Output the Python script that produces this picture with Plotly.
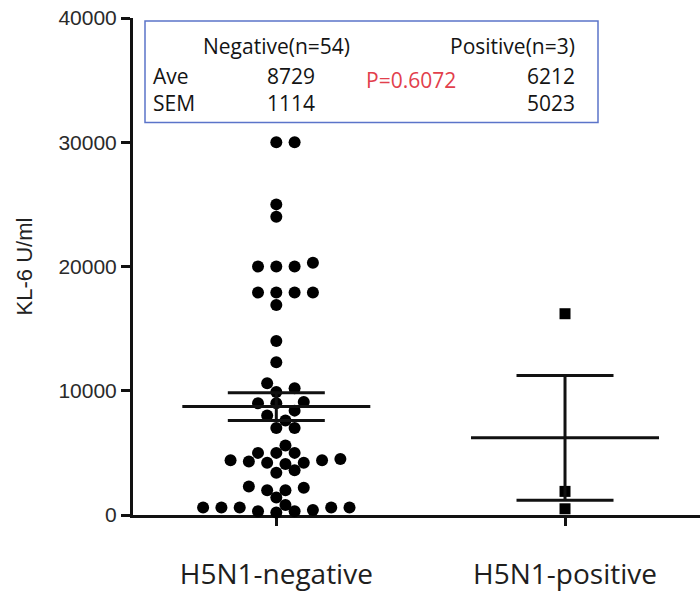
import math
import plotly.graph_objects as go

# ---------------- data ----------------
categories = ["H5N1-negative", "H5N1-positive"]

negative = [30000, 30000, 25000, 24000, 20300, 20000, 20000, 20000,
            17900, 17900, 17900, 17900, 16900, 14000, 12300,
            10600, 10200, 9900, 9100, 9000, 9000, 8400, 8000, 7600, 7000, 7000,
            5600, 5000, 5000, 5000, 4500, 4400, 4400, 4300, 4200, 4200, 4100,
            3600, 3400, 2300, 2200, 2000, 2000, 1400, 800,
            600, 600, 600, 600, 600, 400, 300, 300, 200]
positive = [16200, 1900, 500]

group_means = [8729, 6212]
group_sems = [1114, 5023]

y_ticks = [0, 10000, 20000, 30000, 40000]

# ---------------- layout geometry (pixels) ----------------
W, H = 700, 592
L, R, T, B = 133, 0, 18, 75
plot_w = W - L - R
plot_h = H - T - B
x_range = [-0.4964, 1.4676]
y_range = [0, 40000]
ux = (x_range[1] - x_range[0]) / plot_w   # data units per px
uy = (y_range[1] - y_range[0]) / plot_h   # data units per px

COL_PX = 18.3     # column spacing of the dot swarm (px)
MIN_D = 11.0      # minimal distance between dot centres (px)


def swarm(values, center):
    """Greedy beeswarm in pixel space; returns data-space x offsets."""
    placed = []
    xs, ys = [], []
    cands = [0.0]
    for k in range(1, 30):
        cands += [k * 0.5, -k * 0.5]
    for v in sorted(values):
        vy = v / uy
        for c in cands:
            cx = c * COL_PX
            if all(math.hypot(cx - qx, vy - qy) >= MIN_D for qx, qy in placed):
                break
        placed.append((cx, vy))
        xs.append(center + cx * ux)
        ys.append(v)
    return xs, ys


def px(x):
    return (x - L) / plot_w


def py(y):
    return (H - B - y) / plot_h


fig = go.Figure()

nx, ny = swarm(negative, 0)
fig.add_trace(go.Scatter(x=nx, y=ny, mode="markers", cliponaxis=False,
                         marker=dict(symbol="circle", size=12, color="#000000"),
                         showlegend=False, hoverinfo="y"))

qx, qy = swarm(positive, 1)
fig.add_trace(go.Scatter(x=qx, y=qy, mode="markers", cliponaxis=False,
                         marker=dict(symbol="square", size=11, color="#000000"),
                         showlegend=False, hoverinfo="y"))

# mean +/- SEM lines
mean_half = 94 * ux
cap_half = 48.5 * ux
for i, (m, s) in enumerate(zip(group_means, group_sems)):
    lx, ly = [], []
    lx += [i - mean_half, i + mean_half, None]
    ly += [m, m, None]
    lx += [i - cap_half, i + cap_half, None]
    ly += [m + s, m + s, None]
    lx += [i - cap_half, i + cap_half, None]
    ly += [m - s, m - s, None]
    lx += [i, i]
    ly += [m - s, m + s]
    fig.add_trace(go.Scatter(x=lx, y=ly, mode="lines", cliponaxis=False,
                             line=dict(color="#111111", width=3),
                             showlegend=False, hoverinfo="skip"))

# stats box
fig.add_shape(type="rect", xref="paper", yref="paper",
              x0=px(145), x1=px(598), y0=py(123), y1=py(21),
              line=dict(color="#5b74c9", width=1.5), fillcolor="rgba(0,0,0,0)")

box_font = dict(family="Open Sans, sans-serif", size=21, color="#141414")
red_font = dict(family="Open Sans, sans-serif", size=21, color="#e2404c")


def note(text, x, y, anchor, font=box_font):
    fig.add_annotation(text=text, xref="paper", yref="paper", x=px(x), y=py(y),
                       xanchor=anchor, yanchor="middle", showarrow=False, font=font)


note("Negative(n=54)", 276, 46, "center")
note("Positive(n=3)", 512, 46, "center")
note("Ave", 151, 76, "left")
note(f"{group_means[0]}", 317, 76, "right")
note("P=0.6072", 411, 80, "center", red_font)
note(f"{group_means[1]}", 577, 76, "right")
note("SEM", 151, 103, "left")
note(f"{group_sems[0]}", 317, 103, "right")
note(f"{group_sems[1]}", 577, 103, "right")

fig.update_layout(
    width=W, height=H,
    margin=dict(l=L, r=R, t=T, b=B, pad=0),
    paper_bgcolor="white", plot_bgcolor="white",
    showlegend=False,
    xaxis=dict(range=x_range, tickvals=[0, 1], ticktext=categories,
               showline=True, linecolor="#111111", linewidth=3,
               ticks="outside", ticklen=8, tickwidth=3, tickcolor="#111111",
               ticklabelstandoff=24,
               showgrid=False, zeroline=False, layer="below traces",
               tickfont=dict(family="Open Sans, sans-serif", size=28, color="#1e1e1e")),
    yaxis=dict(range=y_range, tickvals=y_ticks, tickformat="d",
               showline=True, linecolor="#111111", linewidth=3,
               ticks="outside", ticklen=9, tickwidth=3, tickcolor="#111111",
               showgrid=False, zeroline=False, layer="below traces",
               tickfont=dict(family="Liberation Sans, Arial, sans-serif", size=21, color="#2a2a2a"),
               title=dict(text="KL-6 U/ml", standoff=20,
                          font=dict(family="Liberation Sans, Arial, sans-serif", size=22, color="#222222"))),
)

fig.write_html("out.html")
